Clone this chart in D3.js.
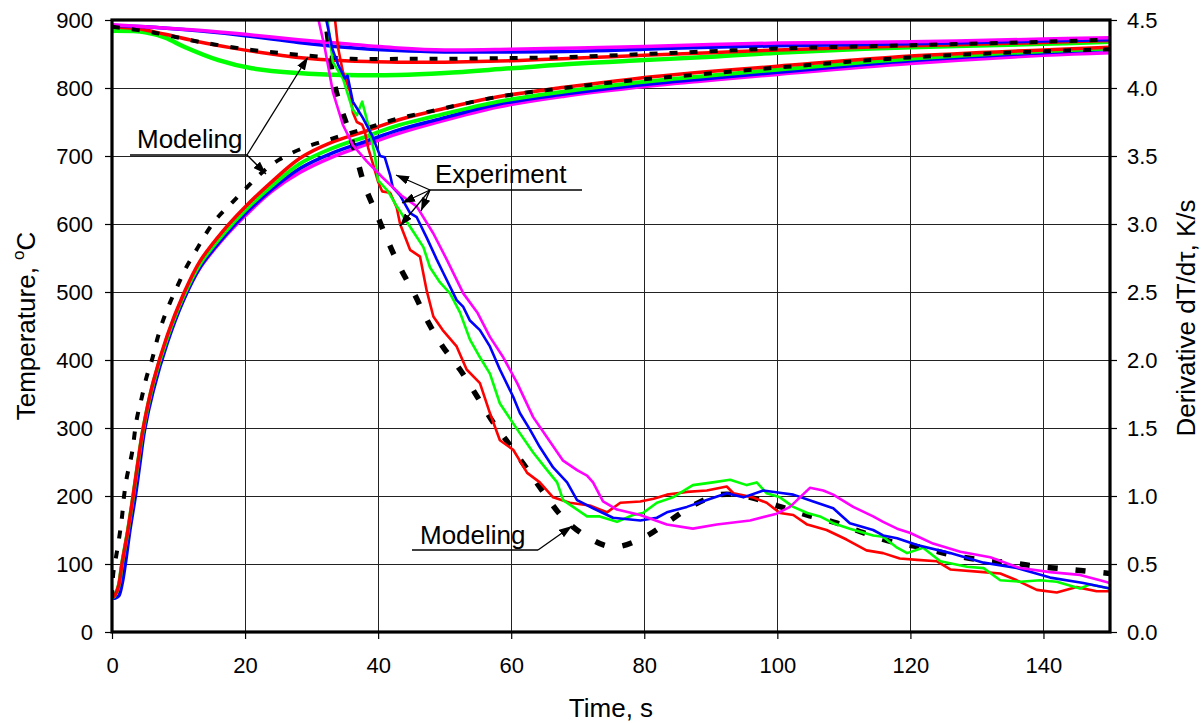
<!DOCTYPE html>
<html>
<head>
<meta charset="utf-8">
<script src="https://cdn.jsdelivr.net/npm/d3@7"></script>
<style>
  html, body { margin: 0; padding: 0; background: #fff; }
  svg { display: block; font-family: "Liberation Sans", Arial, sans-serif; }
</style>
</head>
<body>
<svg id="chart" width="1202" height="723"></svg>
<script>
// ---- axis ticks ----
const timeTicks = [0, 20, 40, 60, 80, 100, 120, 140];
const tempTicks = [0, 100, 200, 300, 400, 500, 600, 700, 800, 900];
const derivTicks = [0, 0.5, 1.0, 1.5, 2.0, 2.5, 3.0, 3.5, 4.0, 4.5];

// ---- upper temperature curves [time s, T °C] ----
const topRed = [[0,890],[4,887],[8,879],[13,868],[18,859],[24,850],[28,845],[35,840],[43,838],[50,838],[60,840],[70,844],[80,848],[90,852],[100,856],[120,862],[140,867],[150,870]];
const topGreen = [[0,884],[5,882],[8,874],[11,860],[16,841],[21,829],[28,822],[35,819],[43,819],[50,822],[60,829],[70,836],[80,841],[90,846],[100,852],[120,860],[140,865],[150,868]];
const topBlue = [[0,892],[5,890],[13,884],[20,877],[28,867],[35,860],[43,855],[50,853],[60,853],[70,854],[80,857],[90,860],[100,862],[120,865],[140,869],[150,871]];
const topMagenta = [[0,893],[5,890],[13,885],[20,879],[28,871],[35,865],[43,859],[50,856],[60,857],[70,859],[80,861],[90,864],[100,866],[120,868],[140,872],[150,874]];
const topModel = [[0,890],[6,882],[13,868],[21,856],[28,849],[36,843],[44,843],[50,843],[60,844],[70,846],[80,850],[90,854],[100,858],[120,863],[140,868],[150,871]];

// ---- heating curves [time s, T °C] ----
const heatRed = [[0,50],[0.5,55],[1,68],[1.5,100],[2.4,150],[3.2,202],[3.9,250],[4.7,300],[6.2,368],[8.3,436],[10.7,496],[13.2,545],[16.7,590],[20,625],[24,662],[28.3,697],[33,720],[38.3,737],[43,753],[48.3,766],[58,787],[68,801],[78,813],[88.4,823],[100,832],[120,847],[140,856],[150,860]];
const heatGreen = [[0,50],[0.5,55],[1,68],[1.5,100],[2.4,150],[3.2,201],[3.9,249],[4.7,299],[6.2,366],[8.3,433],[10.7,493],[13.2,541],[16.7,585],[20,620],[24,656],[28.3,689],[33,711],[38.3,729],[43,745],[48.3,758],[58,780],[68,795],[78,807],[88.4,817],[100,827],[120,843],[140,854],[150,858]];
const heatBlue = [[0,50],[0.5,50],[1,53],[1.5,70],[2,100],[2.7,150],[3.5,199],[4.2,248],[4.9,297],[6.2,355],[8.3,425],[10.7,487],[13.2,536],[16.7,580],[20,615],[24,651],[28.3,682],[33,704],[38.3,722],[43,738],[48.3,752],[58,776],[68,791],[78,803],[88.4,813],[100,823],[120,840],[140,852],[150,857]];
const heatMagenta = [[0,50],[0.5,55],[1,68],[1.5,100],[2.4,150],[3.2,200],[3.9,248],[4.7,298],[6.2,365],[8.3,430],[10.7,488],[13.2,535],[16.7,578],[20,612],[24,648],[28.3,676],[33,698],[38.3,717],[43,733],[48.3,748],[58,772],[68,788],[78,800],[88.4,810],[100,820],[120,836],[140,848],[150,852]];
const heatModel = [[0,50],[0.2,87],[0.6,110],[1.1,140],[1.5,169],[1.8,199],[2.2,226],[3.0,263],[3.7,312],[4.5,346],[5.2,375],[6.0,400],[6.9,434],[7.7,459],[8.7,484],[9.9,510],[11.2,537],[12.7,562],[14.2,587],[15.9,610],[18,631],[20.2,653],[22.7,677],[25.2,695],[28.3,710],[33.2,726],[38.3,741],[43,755],[48,766],[58,787],[68,800],[78,811],[88.4,820],[100,830],[120,845],[140,854],[150,857]];

// ---- cooling-rate derivative dT/dτ [time s, K/s] ----
const derivRed = [[33.3,4.6],[34.0,4.29],[34.7,4.12],[35.8,3.97],[36.2,3.82],[36.8,3.75],[37.6,3.73],[38.0,3.68],[38.5,3.56],[39.3,3.43],[40.0,3.31],[40.6,3.24],[41.8,3.23],[42.8,3.12],[43.3,3.0],[44.8,2.81],[46.3,2.76],[47.3,2.51],[48.3,2.32],[49.7,2.22],[51.8,2.10],[53.3,1.93],[55.3,1.83],[56.8,1.61],[58.3,1.41],[60.3,1.34],[62.4,1.17],[64.3,1.10],[66.3,0.99],[68.8,0.95],[71.8,0.93],[74.4,0.88],[76.4,0.95],[79.4,0.96],[81.4,0.98],[83.4,1.01],[86.4,1.03],[89.4,1.04],[92.4,1.07],[93.4,1.02],[96.3,0.99],[98.4,0.95],[100.4,0.875],[102.4,0.86],[104.5,0.79],[107.4,0.75],[110.4,0.68],[113.4,0.60],[115.9,0.58],[118.4,0.54],[121,0.53],[124,0.52],[126,0.46],[131,0.44],[133.5,0.43],[136,0.38],[139,0.31],[142,0.29],[145,0.33],[148,0.30],[150,0.30]];
const derivGreen = [[32.0,4.65],[32.3,4.55],[32.8,4.34],[33.2,4.19],[34.7,4.07],[36.1,3.85],[36.8,3.80],[37.6,3.90],[38.5,3.73],[39.5,3.51],[40.0,3.32],[41.5,3.24],[42.8,3.13],[44.8,2.98],[46.8,2.83],[47.8,2.68],[49.3,2.57],[50.8,2.49],[52.3,2.35],[53.8,2.15],[55.3,2.02],[56.8,1.90],[58.3,1.68],[60.9,1.49],[63.3,1.32],[65.4,1.19],[66.9,1.10],[67.8,0.97],[69.3,0.92],[71.4,0.85],[73.3,0.85],[75.9,0.81],[78.3,0.86],[79.8,0.875],[81.9,0.95],[84.3,0.99],[87.3,1.08],[90.3,1.10],[92.9,1.12],[95.4,1.08],[96.9,1.10],[98.4,1.02],[100.4,0.99],[102.4,0.92],[104.5,0.875],[106.4,0.85],[108.4,0.80],[110.9,0.76],[114.4,0.71],[115.9,0.70],[118,0.62],[119.5,0.58],[121.9,0.62],[124.5,0.52],[128.5,0.48],[131,0.47],[133.5,0.38],[136.5,0.37],[139.5,0.38],[142,0.37],[145.5,0.32],[147,0.35],[150,0.32]];
const derivBlue = [[31.8,4.65],[32.0,4.55],[33.1,4.29],[34.0,4.17],[35.0,4.07],[35.4,4.09],[36.2,3.90],[37.7,3.78],[39.1,3.65],[40.3,3.50],[41.0,3.49],[41.8,3.36],[42.2,3.27],[43.3,3.21],[44.8,3.08],[45.8,3.05],[47.3,2.90],[48.8,2.74],[49.8,2.64],[51.8,2.44],[52.8,2.39],[53.8,2.29],[55.3,2.22],[56.8,2.10],[58.3,1.93],[60.3,1.73],[61.3,1.61],[62.8,1.49],[64.3,1.36],[66.3,1.21],[68.4,1.10],[69.9,0.97],[72.3,0.91],[75.3,0.84],[79.4,0.82],[81.9,0.84],[83.4,0.88],[86.4,0.92],[89.4,0.97],[92.4,1.02],[94.9,0.99],[97.9,1.04],[100.9,1.02],[102.4,1.01],[105.4,0.96],[108.4,0.91],[110.9,0.80],[114.4,0.75],[115.9,0.71],[118,0.69],[121,0.64],[126,0.58],[131,0.51],[136,0.47],[141,0.40],[146,0.36],[150,0.32]];
const derivMagenta = [[30.7,4.65],[31.0,4.51],[32.0,4.29],[33.2,3.97],[34.7,3.73],[36.2,3.58],[38.3,3.46],[40.7,3.34],[43.5,3.21],[45.8,3.13],[48.3,2.93],[50.3,2.74],[52.8,2.49],[54.9,2.35],[56.8,2.17],[58.8,2.02],[60.9,1.83],[63.3,1.58],[65.4,1.43],[67.8,1.26],[69.9,1.19],[71.4,1.15],[72.3,1.10],[73.8,0.96],[75.9,0.90],[79.4,0.86],[83.4,0.79],[87.3,0.76],[90.9,0.79],[95.9,0.82],[99.9,0.87],[101.9,0.92],[103.4,0.99],[104.9,1.06],[106.9,1.04],[108.4,1.01],[111.4,0.92],[114.4,0.85],[115.9,0.81],[118,0.76],[119.9,0.73],[123.4,0.65],[127.5,0.59],[132,0.55],[136.5,0.47],[141,0.44],[145.5,0.42],[148.5,0.38],[150,0.36]];
const derivModel = [[31.8,4.62],[32.5,4.35],[33.2,4.08],[34.3,3.87],[35.5,3.70],[36.7,3.50],[38.0,3.28],[39.8,3.07],[41.5,2.87],[43.3,2.68],[45.5,2.48],[47.5,2.28],[49.7,2.10],[52.3,1.93],[54.9,1.73],[57.3,1.54],[59.8,1.375],[62.5,1.19],[65.1,1.01],[67.8,0.84],[71.4,0.70],[75.3,0.625],[79.7,0.69],[83.6,0.81],[87.3,0.93],[91.4,1.01],[95.9,0.99],[99.9,0.93],[104.5,0.86],[109,0.80],[112.9,0.73],[117.4,0.66],[121.9,0.62],[125.9,0.57],[130.5,0.53],[135,0.51],[139.5,0.48],[144,0.46],[148,0.44],[150,0.43]];

// ---- layout ----
const box = { left: 112, right: 1110, top: 20, bottom: 632 };
const x = d3.scaleLinear().domain([0, 150]).range([box.left, box.right]);
const yT = d3.scaleLinear().domain([0, 900]).range([box.bottom, box.top]);
const yD = d3.scaleLinear().domain([0, 4.5]).range([box.bottom, box.top]);

const RED = "#ff0000", GREEN = "#00ff00", BLUE = "#0000ff", MAGENTA = "#ff00ff";

const svg = d3.select("#chart");
const defs = svg.append("defs");
defs.append("clipPath").attr("id", "plotClip")
  .append("rect")
  .attr("x", box.left).attr("y", box.top)
  .attr("width", box.right - box.left).attr("height", box.bottom - box.top);

defs.append("marker")
  .attr("id", "arrowHead")
  .attr("viewBox", "0 0 13 9")
  .attr("refX", 13).attr("refY", 4.5)
  .attr("markerWidth", 13).attr("markerHeight", 9)
  .attr("markerUnits", "userSpaceOnUse")
  .attr("orient", "auto")
  .append("path").attr("d", "M0,0 L13,4.5 L0,9 Z").attr("fill", "#000");

// ---- grid ----
const grid = svg.append("g").attr("shape-rendering", "crispEdges");
grid.selectAll("line.gx")
  .data(timeTicks.filter(t => t > 0))
  .join("line").attr("class", "gx")
  .attr("x1", d => Math.round(x(d)) + 0.5).attr("x2", d => Math.round(x(d)) + 0.5)
  .attr("y1", box.top).attr("y2", box.bottom)
  .attr("stroke", "#222").attr("stroke-width", 1);
grid.selectAll("line.gy")
  .data(tempTicks.filter(t => t > 0 && t < 900))
  .join("line").attr("class", "gy")
  .attr("y1", d => Math.round(yT(d)) + 0.5).attr("y2", d => Math.round(yT(d)) + 0.5)
  .attr("x1", box.left).attr("x2", box.right)
  .attr("stroke", "#222").attr("stroke-width", 1);

// ---- curves ----
const plot = svg.append("g").attr("clip-path", "url(#plotClip)");
const smoothT = d3.line().x(d => x(d[0])).y(d => yT(d[1])).curve(d3.curveCatmullRom.alpha(0.5));
const smoothD = d3.line().x(d => x(d[0])).y(d => yD(d[1])).curve(d3.curveCatmullRom.alpha(0.5));
const rawD = d3.line().x(d => x(d[0])).y(d => yD(d[1]));

function draw(gen, data, color, width, dash) {
  const p = plot.append("path")
    .attr("d", gen(data))
    .attr("fill", "none")
    .attr("stroke", color)
    .attr("stroke-width", width)
    .attr("stroke-linejoin", "round");
  if (dash) p.attr("stroke-dasharray", dash);
  return p;
}

// temperature, upper group
draw(smoothT, topGreen, GREEN, 4.5);
draw(smoothT, topRed, RED, 3.5);
draw(smoothT, topBlue, BLUE, 3.5);
draw(smoothT, topMagenta, MAGENTA, 3.5);
draw(smoothT, topModel, "#000", 4, "8,12");

// temperature, heating group
draw(smoothT, heatMagenta, MAGENTA, 3.5);
draw(smoothT, heatBlue, BLUE, 3.5);
draw(smoothT, heatGreen, GREEN, 4);
draw(smoothT, heatRed, RED, 3.5);
draw(smoothT, heatModel, "#000", 4, "8,12");

// derivative
draw(smoothD, derivModel, "#000", 5.5, "10,18");
draw(rawD, derivRed, RED, 2.6);
draw(rawD, derivGreen, GREEN, 2.6);
draw(rawD, derivBlue, BLUE, 2.6);
draw(rawD, derivMagenta, MAGENTA, 2.6);

// ---- axes ----
const fontSize = 22;
const axL = svg.append("g").attr("transform", `translate(${box.left},0)`)
  .call(d3.axisLeft(yT).tickValues(tempTicks).tickFormat(d3.format("d")).tickSize(7).tickPadding(12));
const axR = svg.append("g").attr("transform", `translate(${box.right},0)`)
  .call(d3.axisRight(yD).tickValues(derivTicks).tickFormat(d3.format(".1f")).tickSize(7).tickPadding(10));
const axB = svg.append("g").attr("transform", `translate(0,${box.bottom})`)
  .call(d3.axisBottom(x).tickValues(timeTicks).tickFormat(d3.format("d")).tickSize(7).tickPadding(18));
[axL, axR, axB].forEach(a => {
  a.select(".domain").remove();
  a.selectAll(".tick line").attr("stroke", "#000").attr("stroke-width", 1.2);
  a.selectAll(".tick text").attr("font-size", fontSize).attr("fill", "#000")
    .attr("font-family", '"Liberation Sans", Arial, sans-serif');
});

// plot frame
svg.append("rect")
  .attr("x", box.left).attr("y", box.top)
  .attr("width", box.right - box.left).attr("height", box.bottom - box.top)
  .attr("fill", "none").attr("stroke", "#000").attr("stroke-width", 3.2);

// ---- axis titles ----
const titleSize = 26;
svg.append("text")
  .attr("x", (box.left + box.right) / 2).attr("y", 717)
  .attr("text-anchor", "middle").attr("font-size", titleSize)
  .text("Time, s");

const tl = svg.append("text")
  .attr("transform", `translate(35,${(box.top + box.bottom) / 2}) rotate(-90)`)
  .attr("text-anchor", "middle").attr("font-size", titleSize);
tl.append("tspan").text("Temperature, ");
tl.append("tspan").attr("dy", -11).attr("font-size", 17).text("o");
tl.append("tspan").attr("dy", 11).text("C");

svg.append("text")
  .attr("transform", `translate(1195,318) rotate(-90)`)
  .attr("text-anchor", "middle").attr("font-size", titleSize)
  .text("Derivative dT/dτ, K/s");

// ---- annotations ----
const notes = svg.append("g").attr("stroke", "#000").attr("stroke-width", 1.3).attr("fill", "none");
function label(txt, tx, ty, ux1, ux2, uy, from, targets) {
  svg.append("text").attr("x", tx).attr("y", ty).attr("font-size", 26).attr("fill", "#000").text(txt);
  notes.append("line").attr("x1", ux1).attr("x2", ux2).attr("y1", uy).attr("y2", uy);
  targets.forEach(t => {
    notes.append("line")
      .attr("x1", from[0]).attr("y1", from[1])
      .attr("x2", t[0]).attr("y2", t[1])
      .attr("marker-end", "url(#arrowHead)");
  });
}
label("Modeling", 137, 148, 130, 247, 155, [247, 155], [[308, 57], [266, 174]]);
label("Experiment", 435, 183, 430, 582, 190, [430, 190], [[396, 175], [402, 203], [400, 226], [421, 211]]);
label("Modeling", 420, 544, 412, 538, 550, [538, 550], [[572, 526]]);
</script>
</body>
</html>
